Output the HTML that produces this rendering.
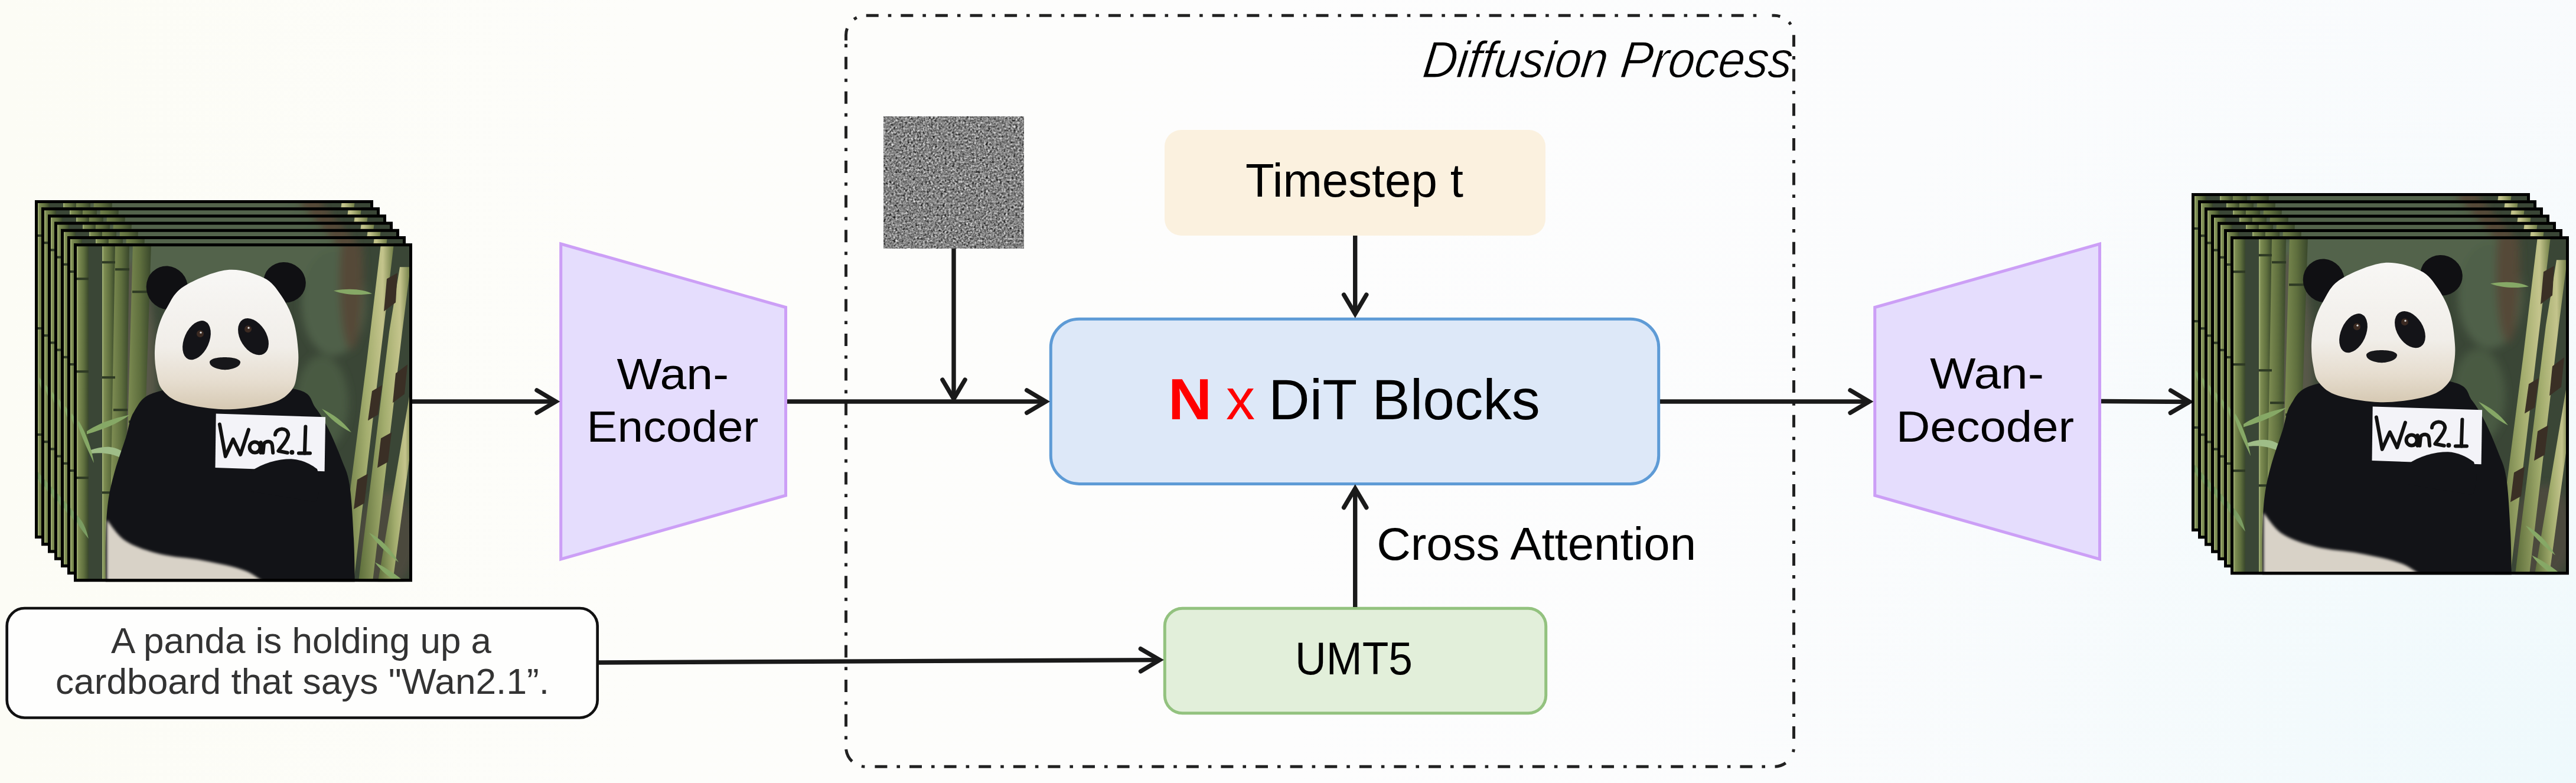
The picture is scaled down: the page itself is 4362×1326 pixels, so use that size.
<!DOCTYPE html>
<html>
<head>
<meta charset="utf-8">
<style>
html,body{margin:0;padding:0;width:4362px;height:1326px;overflow:hidden;background:#f8fbf8;}
svg{display:block;}
text{font-family:"Liberation Sans", sans-serif;}
</style>
</head>
<body>
<svg width="4362" height="1326" viewBox="0 0 4362 1326">
<defs>
  <linearGradient id="bg" x1="0" y1="0" x2="1" y2="0" gradientUnits="objectBoundingBox">
    <stop offset="0" stop-color="#fcfcf5"/>
    <stop offset="0.25" stop-color="#fdfdfa"/>
    <stop offset="0.5" stop-color="#fdfdfd"/>
    <stop offset="1" stop-color="#f9fbfd"/>
  </linearGradient>
  <radialGradient id="bgc" cx="4362" cy="1326" r="1600" gradientUnits="userSpaceOnUse">
    <stop offset="0" stop-color="#eef9fc" stop-opacity="1"/>
    <stop offset="0.5" stop-color="#f3fafc" stop-opacity="0.6"/>
    <stop offset="1" stop-color="#f9fbfd" stop-opacity="0"/>
  </radialGradient>
  <clipPath id="pclip"><rect x="0" y="0" width="573" height="573"/></clipPath>
  <filter id="noise" x="0" y="0" width="100%" height="100%" color-interpolation-filters="sRGB">
    <feTurbulence type="fractalNoise" baseFrequency="0.3" numOctaves="2" seed="7" result="t"/>
    <feColorMatrix type="matrix" values="0.33 0.33 0.33 0 0  0.33 0.33 0.33 0 0  0.33 0.33 0.33 0 0  0 0 0 0 1"/>
    <feComponentTransfer><feFuncR type="linear" slope="2.0" intercept="-0.48"/><feFuncG type="linear" slope="2.0" intercept="-0.48"/><feFuncB type="linear" slope="2.0" intercept="-0.48"/></feComponentTransfer>
    <feGaussianBlur stdDeviation="0.7"/>
  </filter>
  <filter id="pblur" x="-10%" y="-10%" width="120%" height="120%"><feGaussianBlur stdDeviation="7"/></filter>
  <filter id="psoft" x="-10%" y="-10%" width="120%" height="120%"><feGaussianBlur stdDeviation="2"/></filter>
  <linearGradient id="stalk" x1="0" y1="0" x2="1" y2="0">
    <stop offset="0" stop-color="#a9b87c"/><stop offset="0.15" stop-color="#7d8c52"/><stop offset="0.6" stop-color="#5f6f3e"/><stop offset="1" stop-color="#39472b"/>
  </linearGradient>
  <linearGradient id="stalk2" x1="0" y1="0" x2="1" y2="0">
    <stop offset="0" stop-color="#5c6d3a"/><stop offset="0.5" stop-color="#a3ad6e"/><stop offset="0.8" stop-color="#c4c48c"/><stop offset="1" stop-color="#6e7c45"/>
  </linearGradient>
  <linearGradient id="headg" x1="0" y1="0" x2="0" y2="1">
    <stop offset="0" stop-color="#f8f7f5"/><stop offset="0.55" stop-color="#f1eee9"/><stop offset="0.8" stop-color="#e6ddcf"/><stop offset="1" stop-color="#d6c9b3"/>
  </linearGradient>
  <g id="panda">
    <g clip-path="url(#pclip)">
      <rect x="0" y="0" width="573" height="573" fill="#3a4636"/>
      <g filter="url(#pblur)">
        <ellipse cx="280" cy="25" rx="210" ry="50" fill="#52634b"/>
        <ellipse cx="440" cy="100" rx="55" ry="90" fill="#4f6148"/>
        <ellipse cx="420" cy="270" rx="45" ry="80" fill="#485a42"/>
        <ellipse cx="470" cy="60" rx="20" ry="120" fill="#544838"/>
        <ellipse cx="100" cy="230" rx="40" ry="200" fill="#59594a"/>
        <ellipse cx="530" cy="500" rx="50" ry="80" fill="#4b493c"/>
      </g>
      <!-- left bamboo -->
      <rect x="5" y="0" width="20" height="573" fill="url(#stalk)"/>
      <rect x="48" y="0" width="22" height="573" fill="url(#stalk)"/>
      <path d="M70 0 L94 0 L86 573 L60 573 Z" fill="url(#stalk)"/>
      <path d="M100 0 L131 0 L112 573 L84 573 Z" fill="url(#stalk)"/>
      <g fill="#2e3a24">
        <rect x="5" y="58" width="20" height="4"/><rect x="48" y="30" width="22" height="4"/><rect x="70" y="42" width="24" height="4"/><rect x="99" y="80" width="30" height="4"/>
        <rect x="5" y="215" width="20" height="4"/><rect x="48" y="225" width="22" height="4"/><rect x="67" y="280" width="24" height="4"/><rect x="93" y="300" width="28" height="4"/>
        <rect x="5" y="395" width="20" height="4"/><rect x="48" y="420" width="22" height="4"/>
      </g>
      <!-- left leaves -->
      <g fill="#86a866">
        <path d="M22 318 C 50 300, 75 295, 95 290 C 75 305, 50 315, 22 323 Z"/>
        <path d="M28 350 C 60 340, 85 338, 120 396 C 90 360, 60 352, 28 356 Z" fill="#9fbd88"/>
        <path d="M8 300 C 20 320, 30 345, 34 372 C 24 350, 14 330, 6 305 Z"/>
        <path d="M5 460 C 15 470, 20 480, 25 500 C 15 488, 8 478, 3 468 Z" fill="#7a9c62"/>
      </g>
      <!-- right bamboo cluster -->
      <path d="M448 573 L474 573 L518 200 L542 0 L520 0 L496 200 Z" fill="url(#stalk2)"/>
      <path d="M482 573 L506 573 L556 150 L570 40 L552 40 L534 150 Z" fill="url(#stalk2)"/>
      <path d="M515 573 L540 573 L573 330 L573 230 Z" fill="url(#stalk2)"/>
      <g fill="#3a2f25">
        <path d="M530 60 L548 50 L545 100 L525 115 Z"/>
        <path d="M505 250 L522 240 L515 290 L498 300 Z"/>
        <path d="M545 220 L565 205 L560 255 L540 270 Z"/>
        <path d="M480 400 L498 390 L492 440 L474 450 Z"/>
        <path d="M520 330 L538 320 L532 370 L514 380 Z"/>
      </g>
      <g fill="#86a866">
        <path d="M440 80 C 470 75, 490 78, 505 85 C 485 88, 460 88, 440 80 Z"/>
        <path d="M420 280 C 440 290, 455 300, 470 320 C 450 310, 435 298, 420 280 Z"/>
        <path d="M500 490 C 520 500, 535 515, 550 540 C 530 525, 515 510, 500 490 Z"/>
        <path d="M510 540 C 530 550, 545 560, 560 573 L 545 573 C 535 565, 520 555, 510 540 Z"/>
      </g>
      <!-- body -->
      <path d="M54.0 580.0 C54.0 566.7, 53.3 523.7, 54.0 500.0 C54.7 476.3, 55.5 456.8, 58.0 438.0 C60.5 419.2, 64.0 405.2, 69.0 387.0 C74.0 368.8, 82.5 346.0, 88.0 329.0 C93.5 312.0, 93.5 297.8, 102.0 285.0 C110.5 272.2, 112.8 260.2, 139.0 252.0 C165.2 243.8, 218.8 236.7, 259.0 236.0 C299.2 235.3, 355.0 241.0, 380.0 248.0 C405.0 255.0, 400.5 267.0, 409.0 278.0 C417.5 289.0, 423.7 299.5, 431.0 314.0 C438.3 328.5, 447.0 349.2, 453.0 365.0 C459.0 380.8, 463.5 386.5, 467.0 409.0 C470.5 431.5, 472.5 471.5, 474.0 500.0 C475.5 528.5, 475.7 566.7, 476.0 580.0  L476 590 L54 590 Z" fill="#121317"/>
      <!-- white belly -->
      <path d="M56.0 468.0 C61.3 474.0, 73.0 494.3, 88.0 504.0 C103.0 513.7, 124.2 520.5, 146.0 526.0 C167.8 531.5, 194.7 532.2, 219.0 537.0 C243.3 541.8, 272.7 547.0, 292.0 555.0 C311.3 563.0, 327.8 580.0, 335.0 585.0  L56 585 Z" fill="#d8d2c7" filter="url(#psoft)"/>
      <!-- ears -->
      <ellipse cx="158" cy="75" rx="35" ry="37" transform="rotate(-20 158 75)" fill="#101013"/>
      <ellipse cx="357" cy="66" rx="36" ry="34" transform="rotate(20 357 66)" fill="#101013"/>
      <!-- head -->
      <path d="M259.0 45.0 C236.5 47.5, 203.0 62.2, 186.0 73.0 C169.0 83.8, 164.3 97.8, 157.0 110.0 C149.7 122.2, 145.3 133.8, 142.0 146.0 C138.7 158.2, 137.3 170.8, 137.0 183.0 C136.7 195.2, 137.8 208.2, 140.0 219.0 C142.2 229.8, 142.8 239.5, 150.0 248.0 C157.2 256.5, 164.8 264.5, 183.0 270.0 C201.2 275.5, 233.5 281.0, 259.0 281.0 C284.5 281.0, 317.7 275.5, 336.0 270.0 C354.3 264.5, 362.0 256.5, 369.0 248.0 C376.0 239.5, 376.2 229.8, 378.0 219.0 C379.8 208.2, 381.0 197.7, 380.0 183.0 C379.0 168.3, 376.8 146.8, 372.0 131.0 C367.2 115.2, 359.5 100.2, 351.0 88.0 C342.5 75.8, 336.3 65.2, 321.0 58.0 C305.7 50.8, 281.5 42.5, 259.0 45.0 Z" fill="url(#headg)"/>
      <ellipse cx="208" cy="164" rx="21" ry="35" transform="rotate(24 208 164)" fill="#141418"/>
      <ellipse cx="304" cy="158" rx="22" ry="34" transform="rotate(-32 304 158)" fill="#141418"/>
      <circle cx="214" cy="153" r="6" fill="#3b2a22"/>
      <circle cx="295" cy="145" r="6" fill="#3b2a22"/>
      <circle cx="215" cy="151" r="1.6" fill="#ddd"/>
      <circle cx="296" cy="143" r="1.6" fill="#ddd"/>
      <path d="M230 201 C 230 190, 281 190, 282 201 C 282 211, 262 214, 256 214 C 250 214, 230 211, 230 201 Z" fill="#17171a"/>
      <!-- sign -->
      <polygon points="240.7,288.4 426.1,294.1 424.6,386 239.5,379.9" fill="#f3f3f8"/>
      <g fill="none" stroke="#111" stroke-width="6" stroke-linecap="round" stroke-linejoin="round">
        <polyline points="246.9,306.3 256.8,360.7 269.8,331.6 282.1,357.7 295.9,315.5"/>
        <circle cx="306.6" cy="345.4" r="9"/>
        <line x1="316.6" y1="337" x2="316.6" y2="354.6"/>
        <path d="M320.4 354.6 L322 339 C 326 334, 335 334, 336 342 L337.2 354.6"/>
        <path d="M341 324 C 342 312, 362 310, 363.3 324 C 362 335, 350 345, 346.4 351.5 L361.8 354.6"/>
        <line x1="392.4" y1="310.2" x2="390.9" y2="355.4"/>
        <line x1="380.9" y1="355.4" x2="400" y2="355.4"/>
      </g>
      <circle cx="369.4" cy="353.8" r="4" fill="#111"/>
      <!-- paw -->
      <path d="M300 386 C 320 372, 345 365, 368 365 C 385 366, 398 372, 412 382 C 418 400, 418 420, 410 438 L 300 420 Z" fill="#121317"/>
    </g>
    <rect x="2.5" y="2.5" width="568" height="568" fill="none" stroke="#000" stroke-width="5"/>
  </g>
</defs>

<rect x="0" y="0" width="4362" height="1326" fill="url(#bg)"/>
<rect x="0" y="0" width="4362" height="1326" fill="url(#bgc)"/>

<!-- Dashed diffusion box -->
<g fill="none" stroke="#222" stroke-width="5">
  <line x1="1465.5" y1="26.3" x2="2990" y2="26.3" stroke-dasharray="21 16 5.6 16" stroke-dashoffset="57.4"/>
  <line x1="3037.5" y1="59.3" x2="3037.5" y2="1265.3" stroke-dasharray="21 16 5.6 16" stroke-dashoffset="1.2"/>
  <line x1="1465.5" y1="1298.3" x2="3000" y2="1298.3" stroke-dasharray="21 16 5.6 16" stroke-dashoffset="42.7"/>
  <line x1="1432.5" y1="59.3" x2="1432.5" y2="1265.3" stroke-dasharray="21 16 5.6 16" stroke-dashoffset="21.7"/>
  <path d="M1432.5 68.6 L1432.5 59.3 A33 33 0 0 1 1465.5 26.3" stroke-dasharray="20.8 19.5 5.5 100"/>
  <path d="M3000.5 26.3 L3004.5 26.3 A33 33 0 0 1 3037.5 59.3" stroke-dasharray="14 18 5 100"/>
  <path d="M3037.5 1265.3 A33 33 0 0 1 3004.5 1298.3" stroke-dasharray="0 3.5 5 22.8 19.4 100"/>
  <path d="M1465.5 1298.3 A33 33 0 0 1 1432.5 1265.3" stroke-dasharray="0 1.2 5.5 18.2 23.1 100"/>
</g>

<!-- Encoder -->
<polygon points="949.7,413 1330.5,520.5 1330.5,839 949.7,947" fill="#e5ddfd" stroke="#cc9ff6" stroke-width="5"/>

<!-- Decoder -->
<polygon points="3174.7,520.5 3555.5,413 3555.5,947 3174.7,839" fill="#e5ddfd" stroke="#cc9ff6" stroke-width="5"/>

<!-- Noise -->
<rect x="1496" y="197" width="238" height="224" fill="#808080"/>
<rect x="1496" y="197" width="238" height="224" filter="url(#noise)"/>

<!-- Timestep -->
<rect x="1972" y="220" width="645" height="179" rx="28" fill="#fbf1df"/>

<!-- DiT -->
<rect x="1779.3" y="540.3" width="1029.4" height="279.1" rx="48" fill="#dde8f8" stroke="#5e9bd6" stroke-width="5"/>

<!-- UMT5 -->
<rect x="1972.3" y="1030.2" width="645.4" height="177.5" rx="30" fill="#e2efda" stroke="#93c27f" stroke-width="5"/>

<!-- Prompt box -->
<rect x="11.7" y="1030" width="1000" height="185.5" rx="30" fill="#fefefd" stroke="#111" stroke-width="4.7"/>

<!--TEXT-->
<text x="1044.4" y="658.5" font-size="75" font-style="normal" font-weight="normal" fill="#000" textLength="189.6" lengthAdjust="spacingAndGlyphs">Wan-</text>
<text x="993.4" y="748" font-size="75" font-style="normal" font-weight="normal" fill="#000" textLength="291.0" lengthAdjust="spacingAndGlyphs">Encoder</text>
<text x="3268.0" y="657.5" font-size="75" font-style="normal" font-weight="normal" fill="#000" textLength="193.0" lengthAdjust="spacingAndGlyphs">Wan-</text>
<text x="3210.8" y="748" font-size="75" font-style="normal" font-weight="normal" fill="#000" textLength="301.2" lengthAdjust="spacingAndGlyphs">Decoder</text>
<text x="2407.0" y="131" font-size="87" font-style="italic" font-weight="normal" fill="#000" textLength="625.0" lengthAdjust="spacingAndGlyphs" transform="translate(2407.0 131) skewX(-7) translate(-2407.0 -131)" stroke="#fbfbfb" stroke-width="1.1">Diffusion Process</text>
<text x="2109.0" y="333.3" font-size="79" font-style="normal" font-weight="normal" fill="#000" textLength="369.0" lengthAdjust="spacingAndGlyphs">Timestep t</text>
<text x="1978.0" y="710" font-size="98" font-style="normal" font-weight="bold" fill="#ff0000" textLength="74.0" lengthAdjust="spacingAndGlyphs">N</text>
<text x="2076.0" y="710" font-size="98" font-style="normal" font-weight="normal" fill="#ff0000" textLength="49.0" lengthAdjust="spacingAndGlyphs">x</text>
<text x="2148.0" y="710" font-size="96" font-style="normal" font-weight="normal" fill="#000" textLength="459.8" lengthAdjust="spacingAndGlyphs">DiT Blocks</text>
<text x="2193.0" y="1142" font-size="77" font-style="normal" font-weight="normal" fill="#000" textLength="199.0" lengthAdjust="spacingAndGlyphs">UMT5</text>
<text x="2331.2" y="948" font-size="78" font-style="normal" font-weight="normal" fill="#000" textLength="540.8" lengthAdjust="spacingAndGlyphs">Cross Attention</text>
<text x="188.0" y="1106" font-size="61" font-style="normal" font-weight="normal" fill="#333" textLength="644.0" lengthAdjust="spacingAndGlyphs">A panda is holding up a</text>
<text x="94.0" y="1175" font-size="61" font-style="normal" font-weight="normal" fill="#333" textLength="836.0" lengthAdjust="spacingAndGlyphs">cardboard that says &quot;Wan2.1”.</text>
<!--/TEXT-->

<!-- Arrows -->
<g stroke="#1a1a1a" stroke-width="7.4" fill="none">
  <line x1="697.0" y1="680.0" x2="941.2" y2="680.0"/>
  <polyline points="909.0,699.1 941.2,680.0 909.0,660.9" stroke-linecap="round" stroke-linejoin="miter" stroke-miterlimit="10"/>
  <line x1="1333.0" y1="680.0" x2="1770.9" y2="680.0"/>
  <polyline points="1738.7,699.1 1770.9,680.0 1738.7,660.9" stroke-linecap="round" stroke-linejoin="miter" stroke-miterlimit="10"/>
  <line x1="1615.0" y1="421.0" x2="1615.0" y2="675.4"/>
  <polyline points="1595.9,643.2 1615.0,675.4 1634.1,643.2" stroke-linecap="round" stroke-linejoin="miter" stroke-miterlimit="10"/>
  <line x1="2294.7" y1="399.0" x2="2294.7" y2="531.4"/>
  <polyline points="2275.6,499.2 2294.7,531.4 2313.8,499.2" stroke-linecap="round" stroke-linejoin="miter" stroke-miterlimit="10"/>
  <line x1="2294.7" y1="1028.0" x2="2294.7" y2="827.3"/>
  <polyline points="2313.8,859.5 2294.7,827.3 2275.6,859.5" stroke-linecap="round" stroke-linejoin="miter" stroke-miterlimit="10"/>
  <line x1="1014.0" y1="1122.0" x2="1963.7" y2="1117.6"/>
  <polyline points="1931.6,1136.9 1963.7,1117.6 1931.4,1098.7" stroke-linecap="round" stroke-linejoin="miter" stroke-miterlimit="10"/>
  <line x1="2811.0" y1="680.0" x2="3165.2" y2="680.0"/>
  <polyline points="3133.0,699.1 3165.2,680.0 3133.0,660.9" stroke-linecap="round" stroke-linejoin="miter" stroke-miterlimit="10"/>
  <line x1="3558.0" y1="679.5" x2="3707.7" y2="680.5"/>
  <polyline points="3675.4,699.3 3707.7,680.5 3675.6,661.1" stroke-linecap="round" stroke-linejoin="miter" stroke-miterlimit="10"/>
</g>
<!-- Left stack -->
<use href="#panda" x="59" y="339"/>
<use href="#panda" x="70" y="351.2"/>
<use href="#panda" x="81" y="363.4"/>
<use href="#panda" x="92" y="375.6"/>
<use href="#panda" x="103" y="387.8"/>
<use href="#panda" x="114" y="400"/>
<use href="#panda" x="125" y="412.2"/>

<!-- Right stack -->
<use href="#panda" x="3711" y="327"/>
<use href="#panda" x="3722" y="339.2"/>
<use href="#panda" x="3733" y="351.4"/>
<use href="#panda" x="3744" y="363.6"/>
<use href="#panda" x="3755" y="375.8"/>
<use href="#panda" x="3766" y="388"/>
<use href="#panda" x="3777" y="400.2"/>

</svg>
</body>
</html>
